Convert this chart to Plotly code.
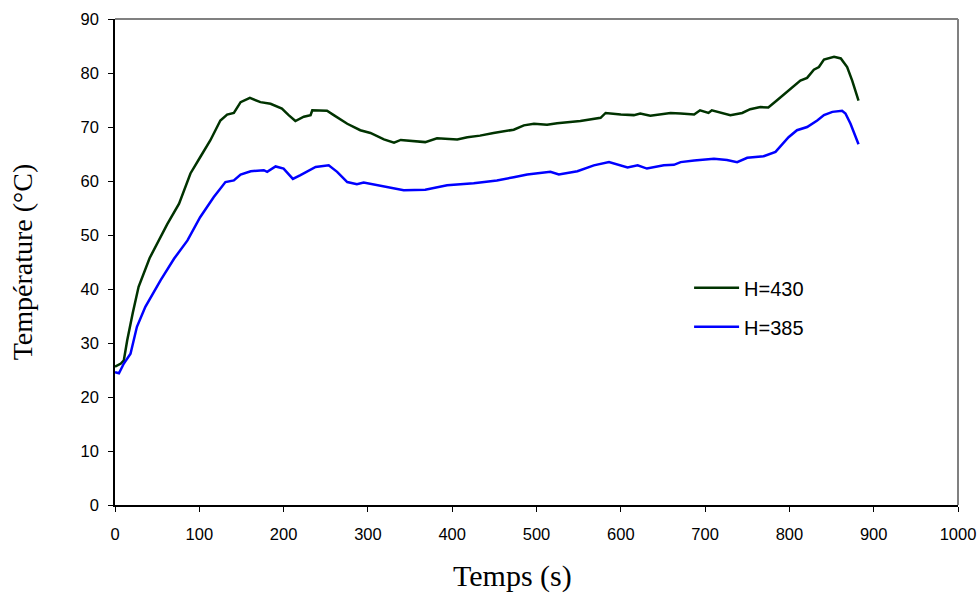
import plotly.graph_objects as go

# H=430 series (time s, temperature °C)
t_430 = [0, 7, 10.5, 14.5, 21, 28, 41, 52, 62, 76, 89.5, 101, 113, 125, 133, 141, 149, 160,
         172.5, 184.5, 198, 206, 214, 224, 232, 234, 251.5, 259.5, 275.5, 291, 303, 319, 331,
         339, 368, 382, 406, 418, 433, 449, 473, 485, 497, 512.5, 524.5, 552, 576, 582, 600,
         615.5, 623, 635, 647, 659, 671, 687, 694, 704, 708, 730, 744, 753.5, 765.5, 775, 785,
         797, 813, 821, 829, 835, 841, 853, 861, 868.5, 874.5, 882]
T_430 = [25.6, 26.2, 26.8, 30.5, 35.5, 40.4, 45.7, 49.0, 52.0, 55.8, 61.4, 64.4, 67.5, 71.2,
         72.3, 72.6, 74.6, 75.4, 74.6, 74.3, 73.4, 72.2, 71.1, 71.9, 72.2, 73.1, 73.0, 72.2,
         70.6, 69.4, 68.9, 67.7, 67.1, 67.6, 67.2, 67.9, 67.7, 68.1, 68.4, 68.9, 69.5, 70.3,
         70.6, 70.4, 70.7, 71.1, 71.7, 72.6, 72.3, 72.2, 72.5, 72.1, 72.3, 72.6, 72.5, 72.3,
         73.1, 72.6, 73.1, 72.2, 72.6, 73.3, 73.7, 73.6, 74.9, 76.5, 78.6, 79.1, 80.6, 81.1,
         82.5, 83.0, 82.7, 81.1, 78.6, 74.9]

# H=385 series
t_385 = [0, 4.7, 10.5, 18.4, 26, 36, 54, 70, 86, 101, 117, 131, 141, 149, 161, 176.5, 180.5,
         190.5, 200, 211, 220, 228, 238, 253.5, 263.5, 275.5, 287, 295, 311, 327, 342.5, 368,
         394, 425.5, 453, 473, 489, 516.5, 526.5, 548.5, 568, 586, 608, 620, 631, 651, 663,
         671, 687, 710.5, 726, 738, 750, 769.5, 783.5, 799, 809, 821, 833, 841, 851, 862.5,
         866.5, 872.5, 882]
T_385 = [24.6, 24.4, 26.2, 28.0, 33.0, 36.7, 41.6, 45.6, 49.0, 53.3, 57.0, 59.8, 60.1, 61.2,
         61.8, 62.0, 61.7, 62.7, 62.3, 60.4, 61.1, 61.8, 62.6, 62.9, 61.7, 59.8, 59.4, 59.7,
         59.2, 58.8, 58.3, 58.4, 59.2, 59.6, 60.1, 60.7, 61.2, 61.7, 61.2, 61.8, 62.9, 63.5,
         62.5, 62.9, 62.3, 62.9, 63.0, 63.5, 63.8, 64.1, 63.9, 63.5, 64.3, 64.6, 65.4, 68.1,
         69.4, 70.0, 71.2, 72.2, 72.8, 73.0, 72.5, 70.6, 66.8]

x_ticks = list(range(0, 1001, 100))
y_ticks = list(range(0, 91, 10))

fig = go.Figure()
fig.add_trace(go.Scatter(x=t_430, y=T_430, mode="lines", name="H=430",
                         line=dict(color="#003300", width=2.5), legendgroup="a"))
fig.add_trace(go.Scatter(x=t_385, y=T_385, mode="lines", name="H=385",
                         line=dict(color="#0000FF", width=2.5), legendgroup="b"))

axis_font = dict(family="Liberation Sans, Arial", size=16.5, color="black")
xtitle_font = dict(family="Liberation Serif, Times New Roman", size=30, color="black")
ytitle_font = dict(family="Liberation Serif, Times New Roman", size=28, color="black")

fig.update_layout(
    width=978, height=593,
    margin=dict(l=114.5, r=20, t=19, b=88.3, autoexpand=False),
    paper_bgcolor="white", plot_bgcolor="white",
    showlegend=True,
    legend=dict(x=0.681, y=0.487, xanchor="left", yanchor="top", itemwidth=45,
                font=dict(family="Liberation Sans, Arial", size=20, color="black"),
                bgcolor="rgba(0,0,0,0)", traceorder="grouped", tracegroupgap=10),
    xaxis=dict(range=[0, 1000], tickvals=x_ticks, ticktext=[str(v) for v in x_ticks],
               showgrid=False, zeroline=False, showline=True, linecolor="black", linewidth=1.5,
               ticks="outside", ticklen=5, tickcolor="black", tickfont=axis_font,
               ticklabelstandoff=8, automargin=False),
    yaxis=dict(range=[0, 90], tickvals=y_ticks, ticktext=[str(v) for v in y_ticks],
               showgrid=False, zeroline=False, showline=True, linecolor="black", linewidth=1.5,
               ticks="outside", ticklen=5, tickcolor="black", tickfont=axis_font,
               ticklabelstandoff=6, automargin=False,
               title=dict(text="Température (°C)", font=ytitle_font, standoff=40)),
    annotations=[dict(text="Temps (s)", xref="paper", yref="paper", x=0.471, y=-0.147,
                      xanchor="center", yanchor="middle", showarrow=False, font=xtitle_font)],
    shapes=[dict(type="line", xref="paper", yref="paper", x0=0, x1=1, y0=1, y1=1,
                 line=dict(color="#808080", width=2), layer="below"),
            dict(type="line", xref="paper", yref="paper", x0=1, x1=1, y0=0, y1=1,
                 line=dict(color="#808080", width=2), layer="below")],
)

fig.write_html("out.html", config={"displayModeBar": False},
               post_script="document.body.style.margin='0';document.body.style.overflow='hidden';")
